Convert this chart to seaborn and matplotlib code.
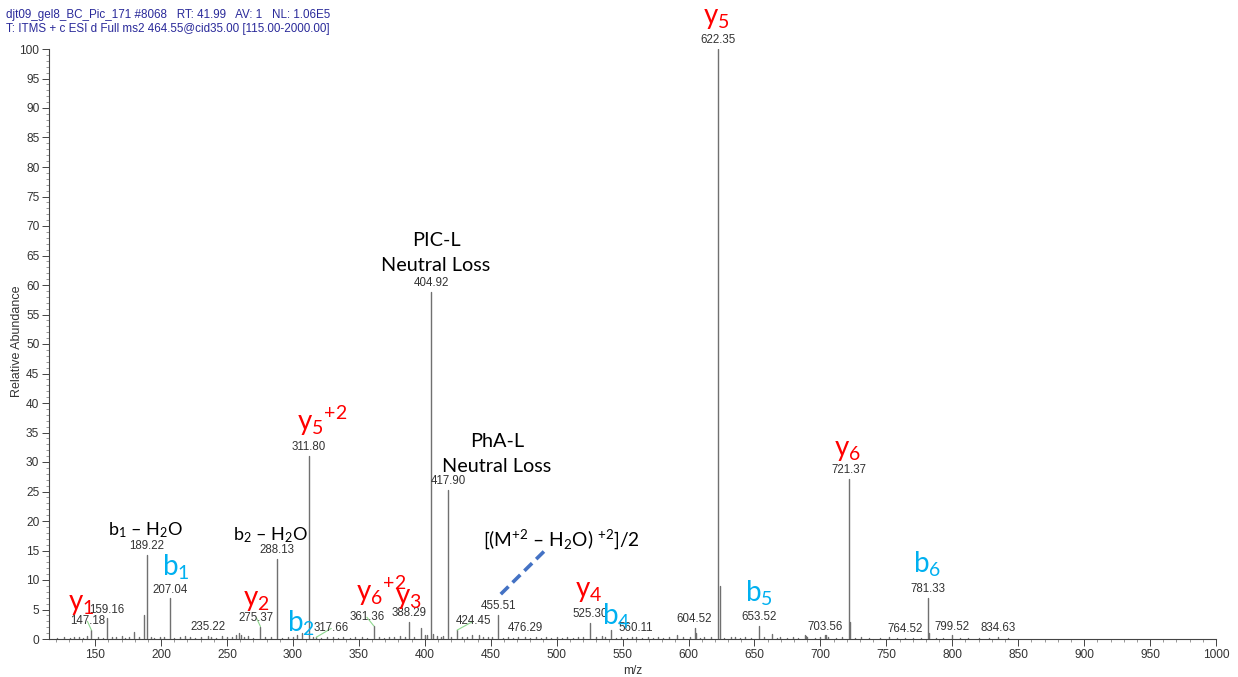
import numpy as np
import pandas as pd
import matplotlib
matplotlib.use("Agg")
import matplotlib.pyplot as plt
from matplotlib.ticker import MultipleLocator
import seaborn as sns

# ---- spectrum data -------------------------------------------------------
# main fragment peaks (m/z, relative abundance)
peak_mz = [147.18, 159.16, 179.5, 187.3, 189.22, 207.04, 235.22, 259.0, 260.5,
           275.37, 288.13, 302.8, 306.9, 311.80, 317.66, 361.36, 388.29, 396.9,
           404.92, 406.5, 409.0, 412.0, 417.90, 424.45, 455.51, 476.29, 525.30,
           540.9, 560.11, 604.52, 605.5, 622.35, 623.5, 653.52, 663.0, 689.0,
           703.56, 704.5, 721.37, 722.4, 764.52, 781.33, 782.6, 799.52, 834.63]
peak_int = [1.5, 3.5, 1.2, 4.0, 14.2, 6.9, 0.5, 1.0, 0.7,
            2.1, 13.6, 0.6, 1.1, 31.0, 0.3, 2.2, 2.9, 1.9,
            58.8, 0.9, 0.5, 0.4, 25.3, 1.5, 4.1, 0.4, 2.7,
            1.6, 0.4, 1.9, 1.0, 100.0, 8.9, 2.2, 0.8, 0.5,
            0.6, 0.6, 27.1, 2.8, 0.2, 7.0, 1.1, 0.6, 0.3]

# low-level baseline peaks
noise_mz = [121, 126, 131, 134, 138, 141, 144, 152, 156, 163, 166, 170, 173,
            176, 183, 192, 195, 199, 202, 210, 214, 218, 222, 226, 230, 238,
            242, 246, 250, 254, 257, 263, 266, 270, 279, 283, 292, 296, 300,
            315, 321, 326, 330, 334, 338, 343, 347, 352, 356, 365, 369, 373,
            377, 381, 385, 392, 400, 402, 414, 420, 428, 432, 436, 441, 444,
            448, 451, 459, 463, 467, 471, 480, 484, 488, 492, 496, 500, 504,
            508, 512, 516, 520, 530, 534, 537, 545, 549, 553, 557, 565, 569,
            573, 577, 581, 585, 591, 596, 601, 609, 612, 617, 627, 632, 635,
            639, 643, 647, 657, 667, 669, 675, 679, 683, 688, 690, 696, 700,
            706, 712, 716, 726, 731, 737, 745, 752, 758, 770, 776, 788, 793,
            806, 812, 820, 828, 842]
noise_int = [0.2, 0.3, 0.2, 0.4, 0.3, 0.2, 0.5, 0.3, 0.2, 0.4, 0.3, 0.5, 0.2,
             0.3, 0.4, 0.3, 0.2, 0.4, 0.3, 0.2, 0.3, 0.5, 0.3, 0.2, 0.4, 0.3,
             0.2, 0.5, 0.3, 0.4, 0.6, 0.3, 0.5, 0.2, 0.4, 0.3, 0.2, 0.4, 0.3,
             0.3, 0.2, 0.3, 0.4, 0.2, 0.3, 0.2, 0.4, 0.3, 0.2, 0.3, 0.2, 0.4,
             0.3, 0.5, 0.3, 0.4, 0.6, 0.7, 0.5, 0.4, 0.3, 0.4, 0.7, 0.6, 0.3,
             0.4, 0.3, 0.2, 0.3, 0.2, 0.3, 0.2, 0.3, 0.2, 0.3, 0.2, 0.4, 0.2,
             0.3, 0.2, 0.4, 0.3, 0.3, 0.5, 0.3, 0.2, 0.3, 0.2, 0.3, 0.2, 0.3,
             0.2, 0.3, 0.2, 0.3, 0.6, 0.4, 0.3, 0.2, 0.3, 0.3, 0.2, 0.4, 0.3,
             0.2, 0.3, 0.2, 0.3, 0.2, 0.3, 0.2, 0.3, 0.2, 0.6, 0.4, 0.2, 0.3,
             0.4, 0.2, 0.3, 0.2, 0.3, 0.2, 0.2, 0.3, 0.2, 0.2, 0.2, 0.2, 0.2,
             0.2, 0.2, 0.2, 0.2, 0.2]

# peaks carrying an m/z label, with horizontal label shift in pixels
label_mz = [147.18, 159.16, 189.22, 207.04, 235.22, 275.37, 288.13, 311.80,
            317.66, 361.36, 388.29, 404.92, 417.90, 424.45, 455.51, 476.29,
            525.30, 560.11, 604.52, 622.35, 653.52, 703.56, 721.37, 764.52,
            781.33, 799.52, 834.63]
label_dx = {147.18: -4, 275.37: -4, 317.66: 15, 361.36: -7, 424.45: 16}

# fragment ion annotations: (text, colour, m/z, height)
RED, BLUE, BLACK = "#ff0000", "#00b0f0", "#000000"
ion_labels = [
    (r"y$_{5}$", RED, 611.0, 104.2),
    (r"y$_{5}{}^{+2}$", RED, 303.1, 35.3),
    (r"y$_{6}$", RED, 710.3, 31.0),
    (r"y$_{1}$", RED, 129.4, 4.9),
    (r"b$_{1}$", BLUE, 200.7, 10.8),
    (r"y$_{2}$", RED, 262.1, 5.6),
    (r"b$_{2}$", BLUE, 295.5, 1.2),
    (r"y$_{6}{}^{+2}$", RED, 347.8, 6.4),
    (r"y$_{3}$", RED, 377.4, 5.9),
    (r"y$_{4}$", RED, 513.9, 7.1),
    (r"b$_{4}$", BLUE, 534.4, 2.4),
    (r"b$_{5}$", BLUE, 642.8, 6.3),
    (r"b$_{6}$", BLUE, 770.2, 11.2),
]
# black notes: (text, m/z, height, alignment, size)
note_labels = [
    (r"b$_{1}$ – H$_{2}$O", 159.7, 17.6, "left", 13),
    (r"b$_{2}$ – H$_{2}$O", 254.5, 16.8, "left", 13),
    ("PIC-L", 408.5, 66.6, "center", 14.3),
    ("Neutral Loss", 408.5, 62.3, "center", 14.3),
    ("PhA-L", 454.8, 32.6, "center", 14.3),
    ("Neutral Loss", 454.8, 28.3, "center", 14.3),
    (r"[(M$^{+2}$ – H$_{2}$O) $^{+2}$]/2", 444.1, 15.8, "left", 13.8),
]
dash_x = [457.6, 492.0]
dash_y = [7.6, 15.2]

header_1 = "djt09_gel8_BC_Pic_171 #8068   RT: 41.99   AV: 1   NL: 1.06E5"
header_2 = "T: ITMS + c ESI d Full ms2 464.55@cid35.00 [115.00-2000.00]"

# ---- styling -------------------------------------------------------------
sns.set_theme(style="ticks")
plt.rcParams["font.family"] = ["Liberation Sans", "DejaVu Sans"]
plt.rcParams["mathtext.fontset"] = "custom"
plt.rcParams["mathtext.rm"] = "Lato"
plt.rcParams["mathtext.it"] = "Lato:italic"
plt.rcParams["mathtext.bf"] = "Lato:bold"

AX_COL = "#444444"
TXT_COL = "#333333"

fig = plt.figure(figsize=(12.38, 6.77), dpi=100)
ax = fig.add_axes([49 / 1238, 38 / 677, 1167 / 1238, 590 / 677])

# stick spectrum: each peak is a two-point line from the baseline
all_mz = list(noise_mz) + list(peak_mz)
all_int = list(noise_int) + list(peak_int)
rows = []
for i, (m, h) in enumerate(zip(all_mz, all_int)):
    rows.append({"peak": i, "mz": m, "intensity": 0.0})
    rows.append({"peak": i, "mz": m, "intensity": h})
sticks = pd.DataFrame(rows)
sns.lineplot(data=sticks, x="mz", y="intensity", units="peak",
             estimator=None, sort=False, color="#707070", linewidth=1.0,
             ax=ax, legend=False)

ax.set_xlim(115, 1000)
ax.set_ylim(0, 100)
ax.set_xticks(np.arange(150, 1001, 50))
ax.xaxis.set_minor_locator(MultipleLocator(10))
ax.yaxis.set_major_locator(MultipleLocator(5))
ax.yaxis.set_minor_locator(MultipleLocator(1))

for side in ("top", "right"):
    ax.spines[side].set_visible(False)
for side in ("left", "bottom"):
    ax.spines[side].set_color(AX_COL)
    ax.spines[side].set_linewidth(0.8)
ax.tick_params(axis="both", which="major", direction="out", length=5,
               width=0.7, color=AX_COL, labelsize=8.6, labelcolor=TXT_COL, pad=2)
ax.tick_params(axis="both", which="minor", direction="out", length=2.5,
               width=0.6, color="#888888")
ax.set_xlabel("m/z", fontsize=8.6, color=TXT_COL, labelpad=3)
ax.set_ylabel("Relative Abundance", fontsize=9, color=TXT_COL)
ax.yaxis.set_label_coords(-0.0223, 0.505)

# m/z value labels above peaks
peak_height = dict(zip(peak_mz, peak_int))
for m in label_mz:
    dx = label_dx.get(m, 0)
    props = None
    if dx:
        props = dict(arrowstyle="-", color="#8fd88f", lw=0.8,
                     shrinkA=0, shrinkB=0)
    ax.annotate(f"{m:.2f}", xy=(m, peak_height[m]),
                xytext=(dx * 0.72, 2.0), textcoords="offset points",
                ha="center", va="bottom", fontsize=8.3, color=TXT_COL,
                family="Liberation Sans", arrowprops=props, annotation_clip=False)

# fragment ion names
for text, col, x, y in ion_labels:
    ax.text(x, y, text, color=col, fontsize=20, family="Lato",
            ha="left", va="baseline", clip_on=False)

for text, x, y, ha, size in note_labels:
    ax.text(x, y, text, color=BLACK, fontsize=size, family="Lato",
            ha=ha, va="baseline", clip_on=False)

ax.plot(dash_x, dash_y, color="#4472c4", linestyle=(0, (3, 1.6)),
        linewidth=2.6, solid_capstyle="butt")

fig.text(6 / 1238, 1 - 15 / 677, header_1, fontsize=8.4, color="#2a2a9a",
         va="center", ha="left", family="Liberation Sans")
fig.text(6 / 1238, 1 - 29 / 677, header_2, fontsize=8.4, color="#2a2a9a",
         va="center", ha="left", family="Liberation Sans")

fig.savefig("out.png", dpi=100)
